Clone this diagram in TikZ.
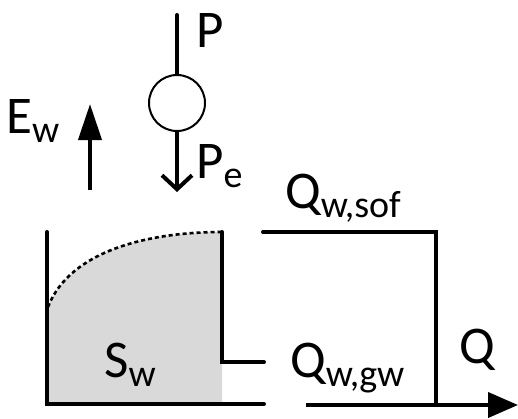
\documentclass[tikz,border=0pt]{standalone}
\usepackage{fontspec}
\setmainfont{Carlito}
\usetikzlibrary{arrows.meta}
\newcommand{\bigtxt}{\fontsize{53}{53}\selectfont}
\newcommand{\subtxt}[1]{\raisebox{-9pt}{\fontsize{38}{38}\selectfont #1}}
\begin{document}
\begin{tikzpicture}[x=1pt,y=-1pt,
  wall/.style={line width=4pt,line cap=round},
  lbl/.style={anchor=base west,inner sep=0pt,font=\bigtxt},
]
\useasboundingbox (0,0) rectangle (518,418);
% named points
\coordinate (ptop) at (177,15);
\node[circle,draw,line width=2pt,minimum size=56pt,inner sep=0pt] (gauge) at (177,103) {};
\coordinate (pend) at (177,192);
\coordinate (ewb) at (90,190);
\coordinate (ewt) at (90,104);
\coordinate (lwt) at (47,232);
\coordinate (lwb) at (47,404);
\coordinate (bl) at (264,404);
\coordinate (rwt) at (222,232);
\coordinate (rwb) at (222,362);
\coordinate (gw) at (264,362);
\coordinate (curveStart) at (48,307);
\coordinate (sofL) at (263,232);
\coordinate (sofR) at (436,232);
\coordinate (outC) at (436,405);
\coordinate (outL) at (306,405);
\coordinate (outR) at (518,405);
% storage fill
\fill[gray!30] (curveStart) .. controls (70,250) and (150,232) .. (rwt) -- (222,404) -- (48,404) -- cycle;
\draw[line width=2.6pt,dash pattern=on 4pt off 3pt] (curveStart) .. controls (70,250) and (150,232) .. (rwt);
% precipitation
\draw[wall] (ptop) -- (gauge.north);
\draw[line width=4pt,-{Straight Barb[length=14pt,width=30pt,line width=4pt]}] (gauge.south) -- (pend);
% evaporation
\draw[line width=4pt,-{Triangle[length=36pt,width=23pt]}] (ewb) -- (ewt);
% reservoir
\draw[wall,line join=miter] (lwt) -- (lwb) -- (bl);
\draw[wall,line join=miter] (rwt) -- (rwb) -- (gw);
% surface flow
\draw[wall,line join=miter] (sofL) -- (sofR) -- (outC);
\draw[line width=4pt,-{Triangle[length=30pt,width=25pt]}] (outL) -- (outR);
% labels
\node[lbl] (lp) at (196,47) {P};
\node[lbl] (lew) at (6,133) {E\subtxt{w}};
\node[lbl] (lpe) at (196,178) {P\subtxt{e}};
\node[lbl] (lsw) at (104,377) {S\subtxt{w}};
\node[lbl] (lsof) at (285,208) {Q\subtxt{w,sof}};
\node[lbl] (lgw) at (290,377) {Q\subtxt{w,gw}};
\node[lbl] (lq) at (459,363) {Q};
\end{tikzpicture}
\end{document}
